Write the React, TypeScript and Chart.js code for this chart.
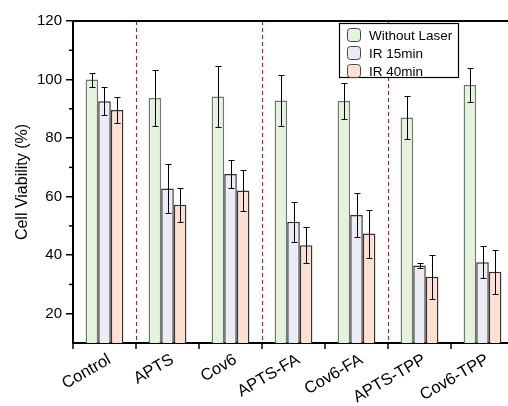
import React, { useEffect, useRef } from 'react';
import { Chart, registerables } from 'chart.js';

Chart.register(...registerables);

const categories = ['Control', 'APTS', 'Cov6', 'APTS-FA', 'Cov6-FA', 'APTS-TPP', 'Cov6-TPP'];
const seriesNames = ['Without Laser', 'IR 15min', 'IR 40min'];
const withoutLaser = [100, 93.7, 94.2, 92.8, 92.7, 87.0, 98.1];
const withoutLaserErr = [2.4, 9.7, 10.4, 8.7, 6.2, 7.4, 5.7];
const ir15 = [92.6, 62.8, 67.7, 51.4, 53.7, 36.5, 37.6];
const ir15Err = [4.8, 8.5, 4.9, 6.9, 7.4, 0.9, 5.4];
const ir40 = [89.6, 57.2, 62.1, 43.4, 47.4, 32.6, 34.3];
const ir40Err = [4.3, 5.9, 6.9, 6.1, 8.2, 7.4, 7.4];
const yTicks = [20, 40, 60, 80, 100, 120];
const yMinorTicks = [30, 50, 70, 90, 110];
const dividerAfter = [0, 2, 4];
const yTitle = 'Cell Viability (%)';

const fills = ['#E4F3DD', '#ECECF6', '#FDE0D2'];
const borders = ['#6E786E', '#333333', '#333333'];
const FONT = '"Liberation Sans", Arial, Helvetica, sans-serif';

const errs = [withoutLaserErr, ir15Err, ir40Err];

const extrasPlugin = {
  id: 'extras',
  beforeDatasetsDraw(chart: any) {
    const { ctx, chartArea } = chart;
    const xs = chart.scales.x;
    ctx.save();
    ctx.strokeStyle = '#FF0000';
    ctx.lineWidth = 1;
    ctx.setLineDash([4, 3]);
    dividerAfter.forEach((i) => {
      const x = Math.round((xs.getPixelForValue(i) + xs.getPixelForValue(i + 1)) / 2) + 0.5;
      ctx.beginPath();
      ctx.moveTo(x, chartArea.top);
      ctx.lineTo(x, chartArea.bottom);
      ctx.stroke();
    });
    ctx.restore();
  },
  afterDatasetsDraw(chart: any) {
    const { ctx } = chart;
    const ys = chart.scales.y;
    ctx.save();
    ctx.strokeStyle = '#000';
    ctx.lineWidth = 1;
    chart.data.datasets.forEach((ds: any, di: number) => {
      const meta = chart.getDatasetMeta(di);
      meta.data.forEach((bar: any, i: number) => {
        const v = ds.data[i];
        const e = errs[di][i];
        const x = Math.round(bar.x) + 0.5;
        const yt = Math.round(ys.getPixelForValue(v + e)) + 0.5;
        const yb = Math.round(ys.getPixelForValue(v - e)) + 0.5;
        ctx.beginPath();
        ctx.moveTo(x, yt);
        ctx.lineTo(x, yb);
        ctx.moveTo(x - 3, yt);
        ctx.lineTo(x + 3, yt);
        ctx.moveTo(x - 3, yb);
        ctx.lineTo(x + 3, yb);
        ctx.stroke();
      });
    });
    ctx.restore();
  },
  afterDraw(chart: any) {
    const { ctx, chartArea } = chart;
    const xs = chart.scales.x;
    const ys = chart.scales.y;
    ctx.save();
    ctx.strokeStyle = '#000';
    ctx.lineWidth = 2;
    ctx.beginPath();
    ctx.moveTo(chartArea.left - 1, chartArea.top);
    ctx.lineTo(chartArea.right, chartArea.top);
    ctx.stroke();
    ctx.lineWidth = 1.5;
    yMinorTicks.forEach((v) => {
      const y = ys.getPixelForValue(v);
      ctx.beginPath();
      ctx.moveTo(chartArea.left - 4, y);
      ctx.lineTo(chartArea.left, y);
      ctx.stroke();
    });
    const half = (xs.getPixelForValue(1) - xs.getPixelForValue(0)) / 2;
    for (let i = 0; i <= categories.length; i++) {
      const x = xs.getPixelForValue(i) - half;
      ctx.beginPath();
      ctx.moveTo(x, chartArea.bottom);
      ctx.lineTo(x, chartArea.bottom + 6);
      ctx.stroke();
    }
    ctx.fillStyle = '#000';
    ctx.font = `16px ${FONT}`;
    ctx.textAlign = 'center';
    ctx.textBaseline = 'middle';
    ctx.translate(23, 182);
    ctx.rotate(-Math.PI / 2);
    ctx.fillText(yTitle, 0, 0);
    ctx.restore();

    ctx.save();
    const lx = 339, ly = 23, lw = 119, lh = 54;
    ctx.fillStyle = '#fff';
    ctx.fillRect(lx, ly, lw, lh);
    ctx.strokeStyle = '#000';
    ctx.lineWidth = 1.2;
    ctx.strokeRect(lx + 0.5, ly + 0.5, lw, lh);
    ctx.font = `13.5px ${FONT}`;
    ctx.textAlign = 'left';
    ctx.textBaseline = 'middle';
    seriesNames.forEach((name, i) => {
      const cy = ly + 12 + i * 18;
      ctx.beginPath();
      ctx.roundRect(lx + 8.5, cy - 6.5, 13, 13, 3);
      ctx.fillStyle = fills[i];
      ctx.fill();
      ctx.strokeStyle = '#444';
      ctx.lineWidth = 1;
      ctx.stroke();
      ctx.fillStyle = '#000';
      ctx.fillText(name, lx + 30, cy + 1);
    });
    ctx.restore();
  },
};

export default function App() {
  const ref = useRef<HTMLCanvasElement | null>(null);
  useEffect(() => {
    if (!ref.current) return;
    const series = [withoutLaser, ir15, ir40];
    const chart = new Chart(ref.current, {
      type: 'bar',
      data: {
        labels: categories,
        datasets: series.map((d, i) => ({
          label: seriesNames[i],
          data: d,
          backgroundColor: fills[i],
          borderColor: borders[i],
          borderWidth: 1.5,
          inflateAmount: 0,
          categoryPercentage: 0.6,
          barPercentage: 1,
        })),
      },
      options: {
        responsive: false,
        animation: false,
        devicePixelRatio: 1,
        layout: { padding: { left: 0, top: 21, right: 16, bottom: 0 } },
        plugins: { legend: { display: false }, tooltip: { enabled: false }, title: { display: false } },
        scales: {
          x: {
            grid: { display: false, drawTicks: false },
            border: { display: true, color: '#000', width: 2 },
            ticks: {
              color: '#000',
              font: { family: FONT, size: 16.5 },
              minRotation: 30,
              maxRotation: 30,
              padding: 7,
              labelOffset: 5,
              autoSkip: false,
            },
            afterFit: (s: any) => { s.height = 63; },
          },
          y: {
            min: 10,
            max: 120,
            grid: { display: true, drawOnChartArea: false, drawTicks: true, tickLength: 7, color: '#000', lineWidth: 1.5 },
            border: { display: true, color: '#000', width: 2 },
            ticks: { color: '#000', font: { family: FONT, size: 15 }, padding: 4 },
            afterBuildTicks: (s: any) => { s.ticks = yTicks.map((v) => ({ value: v })); },
            afterFit: (s: any) => { s.width = 73; },
          },
        },
      },
      plugins: [extrasPlugin],
    });
    return () => chart.destroy();
  }, []);
  return (
    <div style={{ position: 'absolute', left: 0, top: 0, width: 508, height: 406, overflow: 'hidden', background: '#fff' }}>
      <canvas ref={ref} width={530} height={406} style={{ display: 'block' }} />
    </div>
  );
}
